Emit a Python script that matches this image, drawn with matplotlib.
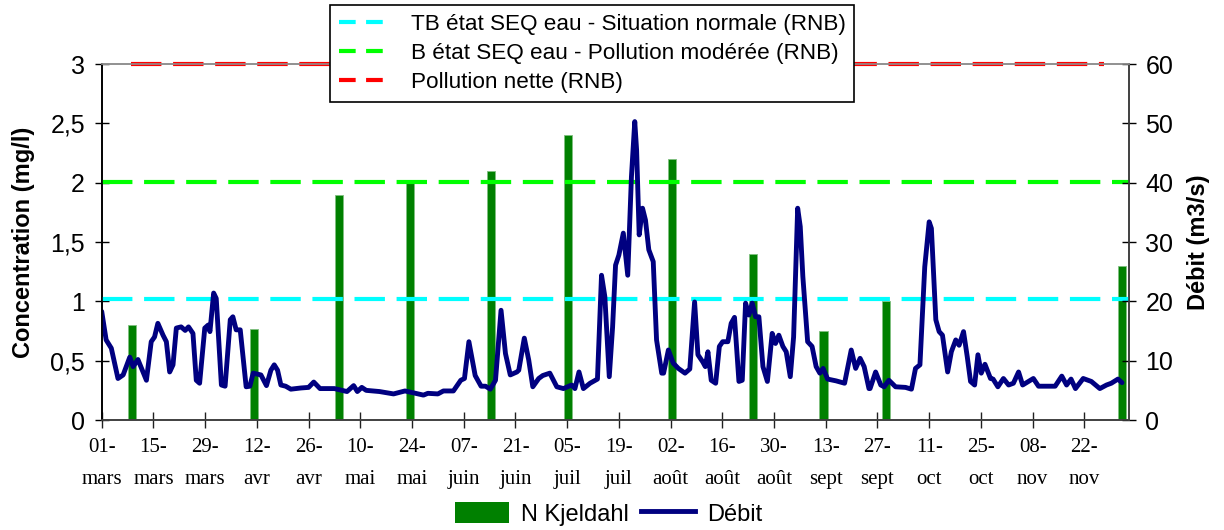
import matplotlib
matplotlib.use("Agg")
import matplotlib.pyplot as plt
from matplotlib.lines import Line2D
from matplotlib.patches import Patch

plt.rcParams['font.family'] = ['Liberation Sans', 'DejaVu Sans']

# jours comptés depuis le 01-mars
tick_jours = list(range(0, 267, 14))
tick_labels = ["01-\nmars", "15-\nmars", "29-\nmars", "12-\navr", "26-\navr",
               "10-\nmai", "24-\nmai", "07-\njuin", "21-\njuin", "05-\njuil",
               "19-\njuil", "02-\naoût", "16-\naoût", "30-\naoût", "13-\nsept",
               "27-\nsept", "11-\noct", "25-\noct", "08-\nnov", "22-\nnov"]

# N Kjeldahl (mg/l)
jours_nk = [8.2, 41.2, 64.2, 83.4, 105.3, 126.3, 154.3, 176.2, 195.4, 212.3, 276.2]
nk = [0.80, 0.77, 1.90, 2.00, 2.10, 2.40, 2.20, 1.40, 0.75, 1.00, 1.30]

# seuils (mg/l)
seuil_tb = 1.02
seuil_b = 2.01
seuil_nette = 3.0
jours_nette = [7.9, 271.4]

# débit (m3/s)
jours_debit = [0.0, 1.2, 2.6, 4.4, 5.8, 7.6, 8.5, 9.8, 12.1, 13.4, 14.3, 15.2, 16.6,
               17.5, 18.4, 19.3, 20.2, 21.5, 22.6, 23.5, 24.7, 25.6, 26.5, 27.9,
               28.8, 29.3, 30.3, 31.0, 32.4, 33.4, 34.8, 35.5, 36.4, 37.5, 39.1,
               40.1, 41.0, 43.1, 44.6, 45.8, 46.7, 47.6, 48.5, 49.8, 51.2, 53.9,
               56.0, 57.4, 59.1, 63.0, 66.4, 68.2, 69.2, 70.4, 71.6, 75.2, 79.0,
               82.1, 84.3, 87.1, 88.3, 91.0, 92.5, 95.2, 97.2, 98.2, 99.4, 101.1,
               102.7, 103.9, 105.2, 106.6, 108.1, 109.3, 110.6, 112.4, 112.9, 114.4,
               115.6, 116.7, 118.3, 119.4, 121.3, 123.2, 125.0, 127.2, 128.1, 129.2,
               130.4, 132.2, 134.2, 135.3, 136.2, 137.4, 138.3, 139.1, 140.0, 141.2,
               142.4, 143.4, 144.3, 144.8, 145.5, 146.4, 147.2, 148.1, 149.3, 150.2,
               151.6, 152.1, 153.4, 154.7, 156.1, 157.9, 159.2, 160.5, 161.4, 162.7,
               163.4, 164.1, 165.0, 166.2, 167.2, 168.1, 169.5, 170.4, 171.3, 172.5,
               173.4, 174.3, 175.2, 176.1, 177.0, 177.9, 179.0, 180.2, 181.5, 182.4,
               183.3, 184.4, 185.3, 186.4, 187.3, 188.4, 189.1, 189.8, 191.1, 192.3,
               193.4, 194.4, 195.3, 196.5, 198.8, 201.1, 202.9, 204.1, 205.3, 206.4,
               207.7, 208.0, 209.5, 210.9, 211.8, 213.1, 214.9, 217.6, 219.2, 220.3,
               221.5, 222.8, 224.0, 224.6, 225.8, 226.7, 227.6, 229.0, 230.0, 231.2,
               232.1, 233.3, 234.3, 235.2, 236.3, 237.2, 238.1, 239.1, 240.6, 241.3,
               242.6, 244.1, 245.5, 246.8, 248.2, 249.3, 250.9, 252.2, 253.6, 258.1,
               259.9, 261.2, 262.4, 263.6, 265.7, 267.9, 270.2, 272.0, 273.3, 275.1,
               276.2]
debit = [18.3, 13.5, 12.1, 7.0, 7.6, 10.6, 9.0, 10.2, 6.7, 13.2, 14.0, 16.3, 14.3,
         13.2, 8.1, 9.3, 15.5, 15.7, 15.1, 15.7, 14.6, 6.7, 6.2, 15.5,
         16.0, 14.9, 21.4, 20.5, 5.9, 5.7, 16.9, 17.4, 15.2, 15.2, 5.6,
         5.7, 7.9, 7.6, 5.8, 8.4, 9.3, 8.4, 5.9, 5.7, 5.2, 5.4,
         5.5, 6.4, 5.3, 5.3, 4.8, 5.8, 4.8, 5.5, 5.0, 4.8, 4.4,
         4.9, 4.6, 4.2, 4.5, 4.4, 4.9, 4.9, 6.7, 7.0, 13.2, 7.5,
         5.7, 5.7, 5.2, 6.7, 18.5, 11.2, 7.6, 8.1, 8.4, 13.8,
         10.1, 5.6, 7.0, 7.5, 7.9, 5.6, 5.3, 5.9, 5.3, 8.1,
         5.3, 6.2, 6.9, 24.4, 20.8, 7.3, 15.7, 26.1, 27.8, 31.5,
         24.4, 41.0, 50.3, 45.5, 31.2, 35.7, 33.7, 28.7, 26.7, 13.5,
         7.9, 7.9, 11.8, 9.6, 8.7, 7.9, 8.6, 19.9, 11.0, 9.8,
         9.0, 11.5, 6.7, 6.2, 12.4, 13.2, 13.2, 16.3, 17.3, 6.5,
         6.7, 19.7, 17.7, 19.7, 17.4, 17.4, 9.0, 6.5, 14.6, 12.9,
         14.3, 12.4, 11.5, 7.3, 14.0, 35.7, 32.6, 24.2, 13.2, 12.4,
         9.0, 7.9, 8.7, 6.9, 6.6, 6.2, 11.8, 8.7, 10.4, 9.0,
         5.3, 5.3, 8.1, 5.9, 5.6, 6.7, 5.6, 5.5, 5.2, 8.7,
         9.3, 25.8, 33.4, 32.3, 16.9, 14.9, 14.3, 8.1, 11.5, 13.5,
         12.6, 14.9, 10.7, 6.5, 5.9, 11.0, 7.9, 9.4, 7.0, 6.9,
         5.6, 7.0, 5.9, 6.2, 8.1, 5.9, 6.5, 7.0, 5.7, 5.7,
         7.4, 5.9, 6.9, 5.3, 7.0, 6.5, 5.3, 5.9, 6.2, 6.9,
         6.3]

vert_nk = "#008000"
bleu_debit = "#000080"

fig = plt.figure(figsize=(12.24, 5.30), dpi=100)
ax = fig.add_axes([0.0831, 0.2075, 0.839, 0.6717])
ax2 = ax.twinx()

ax.bar(jours_nk, nk, width=2.2, color=vert_nk, edgecolor="#7fbf7f", linewidth=0.6, zorder=2)

lw_seuil = 3.0
ax.axhline(seuil_tb, color="#00FFFF", lw=lw_seuil, dashes=(7.3, 2.8), zorder=3)
ax.axhline(seuil_b, color="#00FF00", lw=lw_seuil, dashes=(7.3, 2.8), zorder=3)
ax.plot(jours_nette, [seuil_nette, seuil_nette], color="#FF0000", lw=lw_seuil,
        dashes=(7.3, 2.8), zorder=3, clip_on=False)

ax2.plot(jours_debit, debit, color=bleu_debit, lw=3.5, solid_joinstyle="round",
         solid_capstyle="round")

ax.set_xlim(0, 278)
ax.set_ylim(0, 3)
ax2.set_ylim(0, 60)

ax.set_yticks([0, 0.5, 1, 1.5, 2, 2.5, 3])
ax.set_yticklabels(["0", "0,5", "1", "1,5", "2", "2,5", "3"])
ax2.set_yticks(range(0, 61, 10))
ax.set_xticks(tick_jours)
ax.set_xticklabels(tick_labels, family="Liberation Serif", fontsize=15, linespacing=1.95)

ax.tick_params(axis="y", direction="inout", length=10, width=1, labelsize=18, pad=7)
ax.tick_params(axis="x", direction="inout", length=12, width=1, pad=7, color="#202020")
ax2.tick_params(axis="y", direction="inout", length=10, width=1, labelsize=18, pad=7)

for a in (ax, ax2):
    a.spines["left"].set_color("black")
    a.spines["right"].set_color("#404040")
    a.spines["bottom"].set_color("#404040")
    a.spines["top"].set_color("#909090")
    for s in a.spines.values():
        s.set_linewidth(1.2)

ax.set_ylabel("Concentration (mg/l)", fontsize=17, fontweight="bold", labelpad=11)
ax2.set_ylabel("Débit (m3/s)", fontsize=17, fontweight="bold", labelpad=10)

poignees_seuils = [
    Line2D([], [], color="#00FFFF", lw=lw_seuil, dashes=(4, 2.5)),
    Line2D([], [], color="#00FF00", lw=lw_seuil, dashes=(4, 2.5)),
    Line2D([], [], color="#FF0000", lw=lw_seuil, dashes=(4, 2.5)),
]
leg = fig.legend(poignees_seuils,
                 ["TB état SEQ eau - Situation normale (RNB)",
                  "B état SEQ eau - Pollution modérée (RNB)",
                  "Pollution nette (RNB)"],
                 loc="upper center", bbox_to_anchor=(0.4837, 0.99), fontsize=16.2,
                 frameon=True, fancybox=False, edgecolor="black", framealpha=1,
                 handlelength=2.4, labelspacing=0.36, borderpad=0.38, handletextpad=0.8,
                 borderaxespad=0)
leg.get_frame().set_linewidth(1.2)
leg.set_zorder(10)

fig.legend([Patch(facecolor=vert_nk, edgecolor="none"),
            Line2D([], [], color=bleu_debit, lw=3.5)],
           ["N Kjeldahl", "Débit"], loc="lower center", bbox_to_anchor=(0.497, -0.032),
           ncol=2, frameon=False, fontsize=17, handlelength=2.3, handleheight=1.0,
           columnspacing=0.5, handletextpad=0.5)

fig.savefig("out.png", dpi=100)
